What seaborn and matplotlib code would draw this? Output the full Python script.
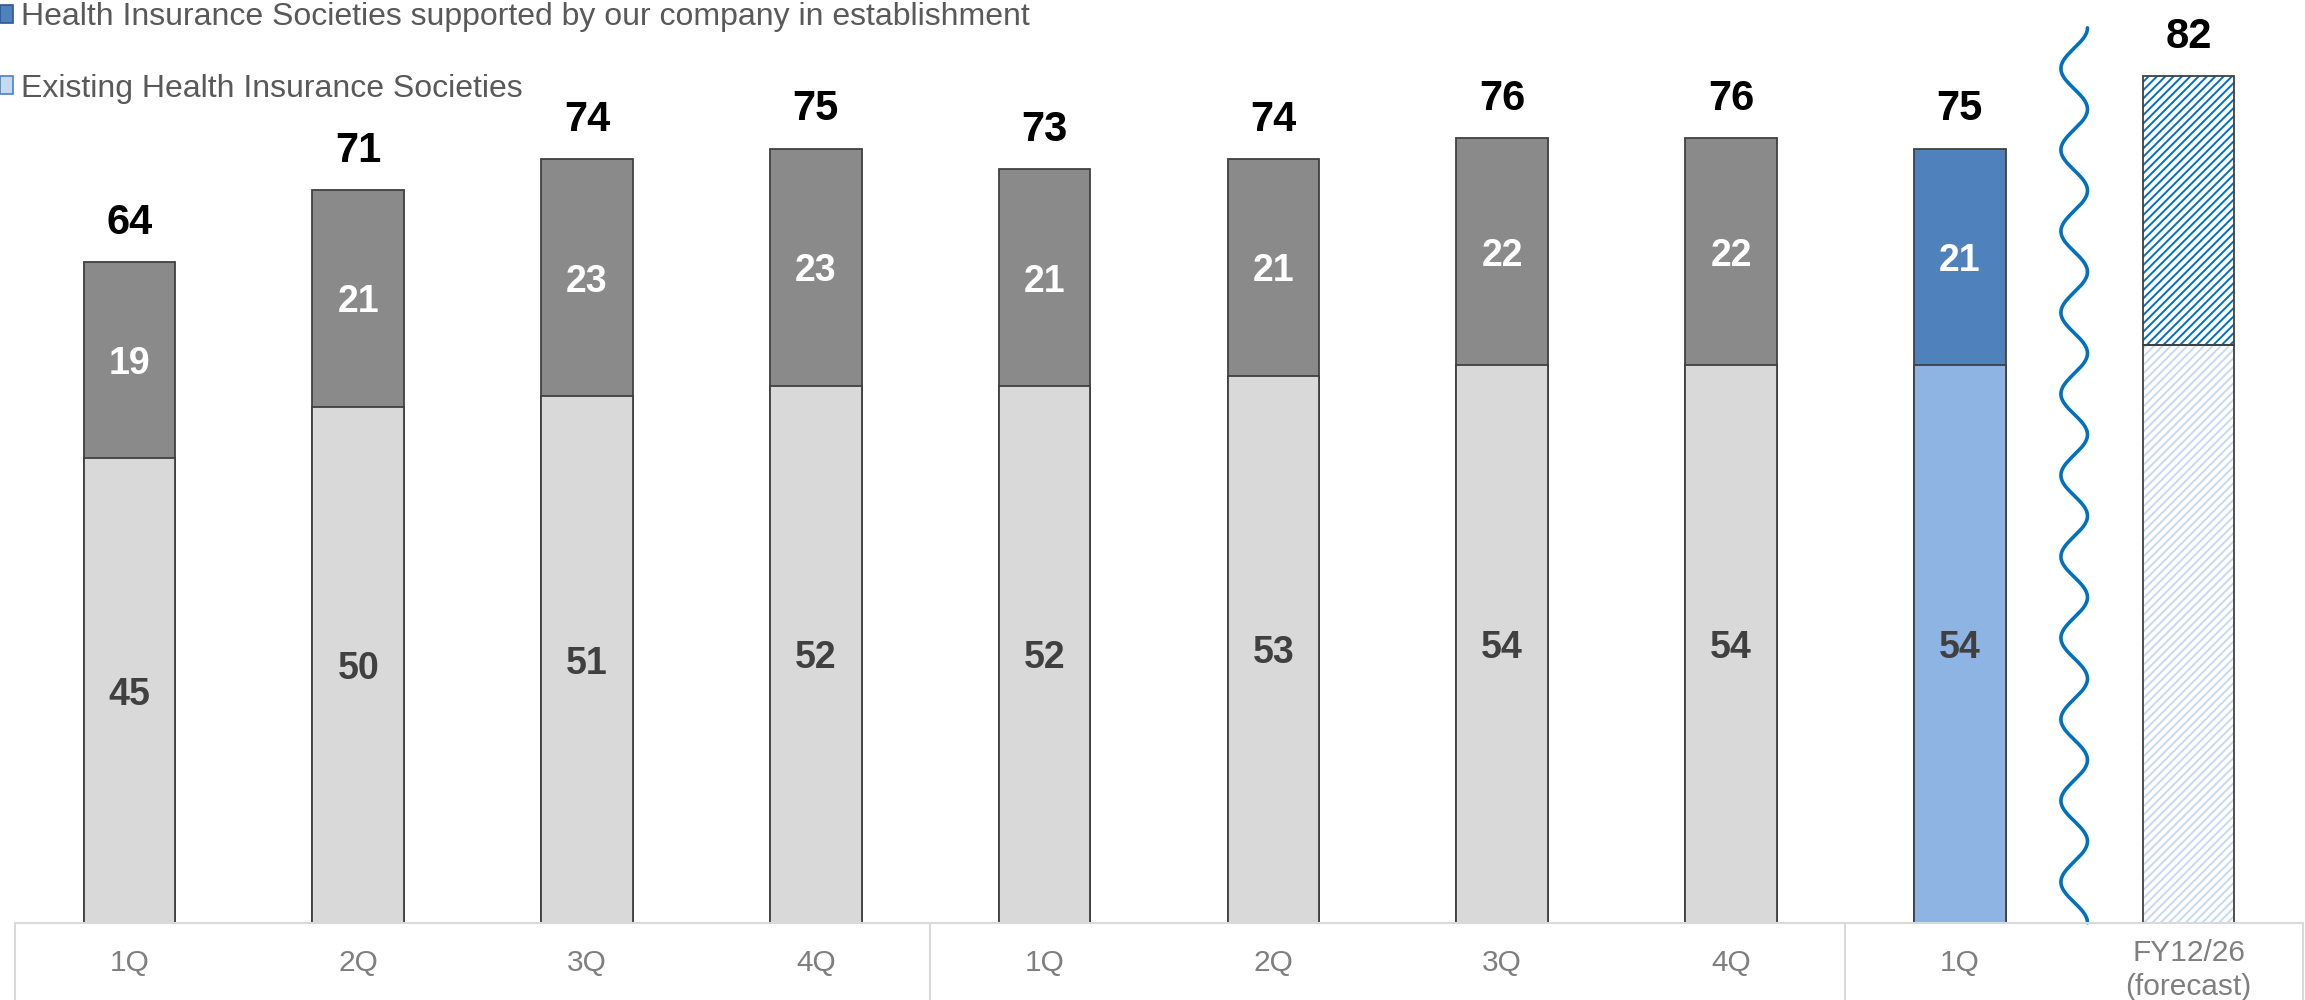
import numpy as np
import pandas as pd
import seaborn as sns
import matplotlib
matplotlib.use("Agg")
import matplotlib.pyplot as plt
from matplotlib.patches import Patch
from matplotlib import font_manager
import matplotlib.transforms as mtransforms

# ---- data -------------------------------------------------------------
bar_keys = ["b0", "b1", "b2", "b3", "b4", "b5", "b6", "b7", "b8", "b9"]
tick_labels = ["1Q", "2Q", "3Q", "4Q", "1Q", "2Q", "3Q", "4Q", "1Q",
               "FY12/26\n(forecast)"]
existing = [45, 50, 51, 52, 52, 53, 54, 54, 54, 56]
supported = [19, 21, 23, 23, 21, 21, 22, 22, 21, 26]
totals = [64, 71, 74, 75, 73, 74, 76, 76, 75, 82]
legend_labels = ["Health Insurance Societies supported by our company in establishment",
                 "Existing Health Insurance Societies"]

# ---- styling ----------------------------------------------------------
EDGE = "#404040"
GRAY_DARK = "#8A8A8A"
GRAY_LIGHT = "#D9D9D9"
BLUE_DARK = "#4F81BD"
BLUE_LIGHT = "#8EB4E3"
HATCH_TOP = "#0070C0"
HATCH_BOTTOM = "#C6D9F1"
TABLE = "#D9D9D9"

upper_colors = [GRAY_DARK] * 8 + [BLUE_DARK, "white"]
lower_colors = [GRAY_LIGHT] * 8 + [BLUE_LIGHT, "white"]

sns.set_theme(style="white")
plt.rcParams["font.family"] = ["Liberation Sans", "DejaVu Sans"]
plt.rcParams["hatch.linewidth"] = 1.4

names = {f.name for f in font_manager.fontManager.ttflist}
if "Liberation Sans Narrow" in names:
    legend_font = dict(family=["Liberation Sans Narrow", "Liberation Sans"], size=25)
else:
    legend_font = dict(family=["Liberation Sans", "DejaVu Sans"], size=23)

df = pd.DataFrame({"bar": bar_keys, "existing": existing,
                   "supported": supported, "total": totals})

fig = plt.figure(figsize=(23.05, 10), dpi=100)
ax = fig.add_axes([15 / 2305, 0.0773, 2288 / 2305, 0.9227])

# full-height bars carry the upper segment colour, lower segment drawn over them
sns.barplot(data=df, x="bar", y="total", hue="bar", order=bar_keys,
            palette=dict(zip(bar_keys, upper_colors)), saturation=1,
            width=0.4, edgecolor=EDGE, linewidth=1.3, legend=False, ax=ax)
upper_patches = list(ax.patches)
sns.barplot(data=df, x="bar", y="existing", hue="bar", order=bar_keys,
            palette=dict(zip(bar_keys, lower_colors)), saturation=1,
            width=0.4, edgecolor=EDGE, linewidth=1.3, legend=False, ax=ax)
lower_patches = [p for p in ax.patches if p not in upper_patches]


def center_x(p):
    return p.get_x() + p.get_width() / 2


# forecast bar: hatched segments with a dark outline
fc_idx = len(bar_keys) - 1
for p in upper_patches:
    if abs(center_x(p) - fc_idx) < 0.01:
        p.set_facecolor("white")
        p.set_hatch("////")
        p.set_edgecolor(HATCH_TOP)
        p.set_linewidth(0)
for p in lower_patches:
    if abs(center_x(p) - fc_idx) < 0.01:
        p.set_facecolor("white")
        p.set_hatch("////")
        p.set_edgecolor(HATCH_BOTTOM)
        p.set_linewidth(0)
ax.bar(fc_idx, existing[fc_idx], width=0.4, fill=False, edgecolor=EDGE,
       linewidth=1.3, zorder=3)
ax.bar(fc_idx, supported[fc_idx], bottom=existing[fc_idx], width=0.4,
       fill=False, edgecolor=EDGE, linewidth=1.3, zorder=3)

# value labels
for i in range(len(bar_keys)):
    ax.text(i, totals[i] + 2.74, f"{totals[i]}", ha="center", va="baseline",
            fontsize=30, fontweight="bold", color="black")
    if i == fc_idx:
        continue
    ax.text(i, existing[i] / 2 - 1.36, f"{existing[i]}", ha="center",
            va="baseline", fontsize=27, fontweight="bold", color=EDGE)
    ax.text(i, existing[i] + supported[i] / 2 - 1.36, f"{supported[i]}",
            ha="center", va="baseline", fontsize=27, fontweight="bold",
            color="white")

# wavy break line between the actuals and the forecast
ys = np.linspace(0, 86.7, 1200)
period = 86.7 / 11
xs = 8.5 + 0.058 * np.cos(2 * np.pi * (86.7 - ys) / period)
ax.plot(xs, ys, color=HATCH_TOP, linewidth=2.6, clip_on=False, zorder=4)

# axes and table-style category band
ax.set_xlim(-0.5, 9.5)
ax.set_ylim(0, 89.4)
ax.set_xlabel("")
ax.set_ylabel("")
ax.set_yticks([])
ax.set_xticks(range(len(bar_keys)))
ax.tick_params(axis="x", length=0, pad=29)
ax.set_xticklabels(tick_labels, fontsize=21.5, color="#7F7F7F",
                   linespacing=1.23)
for lbl in ax.get_xticklabels():
    lbl.set_va("center")
    if "\n" in lbl.get_text():
        lbl.set_transform(lbl.get_transform() + mtransforms.ScaledTranslation(
            0, -7 / 100, fig.dpi_scale_trans))
for side in ["top", "right", "left"]:
    ax.spines[side].set_visible(False)
ax.spines["bottom"].set_color(TABLE)
ax.spines["bottom"].set_linewidth(1.5)
ax.spines["bottom"].set_zorder(5)

trans = mtransforms.blended_transform_factory(ax.transData, ax.transAxes)
for xv in [-0.5, 3.5, 7.5, 9.5]:
    ax.plot([xv, xv], [0, -0.0773 / 0.9227], color=TABLE, linewidth=1.5,
            transform=trans, clip_on=False)

# legend
handles = [Patch(facecolor=BLUE_DARK, edgecolor="#2F5597", linewidth=1.2),
           Patch(facecolor="#C6D9F1", edgecolor="#4F81BD", linewidth=1.2)]
fig.legend(handles, legend_labels, loc="upper left",
           bbox_to_anchor=(0.0, 0.998), frameon=False, borderpad=0,
           borderaxespad=0, handlelength=0.42, handleheight=0.5,
           handletextpad=0.25, labelspacing=1.3, prop=legend_font,
           labelcolor="#595959")

fig.savefig("out.png", dpi=100)
